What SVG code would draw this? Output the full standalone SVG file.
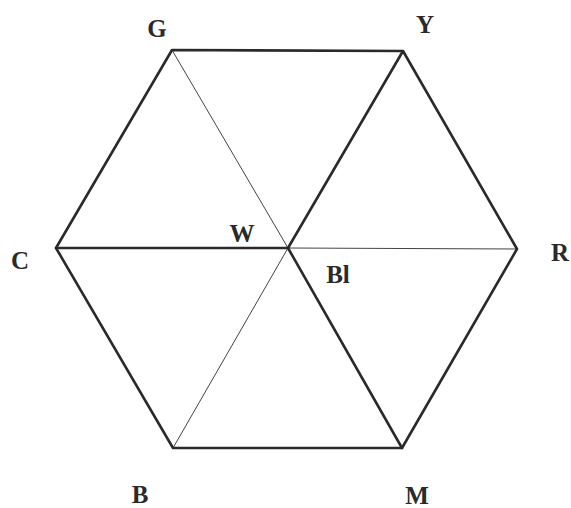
<svg xmlns="http://www.w3.org/2000/svg" width="571" height="508" viewBox="0 0 571 508">
<style>
.thick{stroke:#2a2a2a;stroke-width:2.6;fill:none;stroke-linecap:round;stroke-linejoin:round}
.thin{stroke:#444;stroke-width:1;fill:none}
text{font-family:"Liberation Serif",serif;font-weight:bold;font-size:25px;fill:#2a2a2a;text-anchor:middle}
</style>
<rect width="571" height="508" fill="#fff"/>
<g id="connectors">
<line class="thin" x1="288" y1="248" x2="172" y2="50"/>
<line class="thin" x1="288" y1="248" x2="517" y2="249"/>
<line class="thin" x1="288" y1="248" x2="173" y2="448"/>
<line class="thick" x1="288" y1="248" x2="403" y2="51"/>
<line class="thick" x1="288" y1="248" x2="56" y2="248"/>
<line class="thick" x1="288" y1="248" x2="402" y2="448"/>
<polygon class="thick" points="172,50 403,51 517,249 402,448 173,448 56,248"/>
</g>
<g id="G"><text x="157" y="37">G</text></g>
<g id="Y"><text x="425" y="33">Y</text></g>
<g id="C"><text x="20" y="269">C</text></g>
<g id="R"><text x="560" y="261">R</text></g>
<g id="W"><text x="242" y="242">W</text></g>
<g id="Bl"><text x="338" y="283">Bl</text></g>
<g id="B"><text x="140" y="503">B</text></g>
<g id="M"><text x="417" y="504">M</text></g>
</svg>
